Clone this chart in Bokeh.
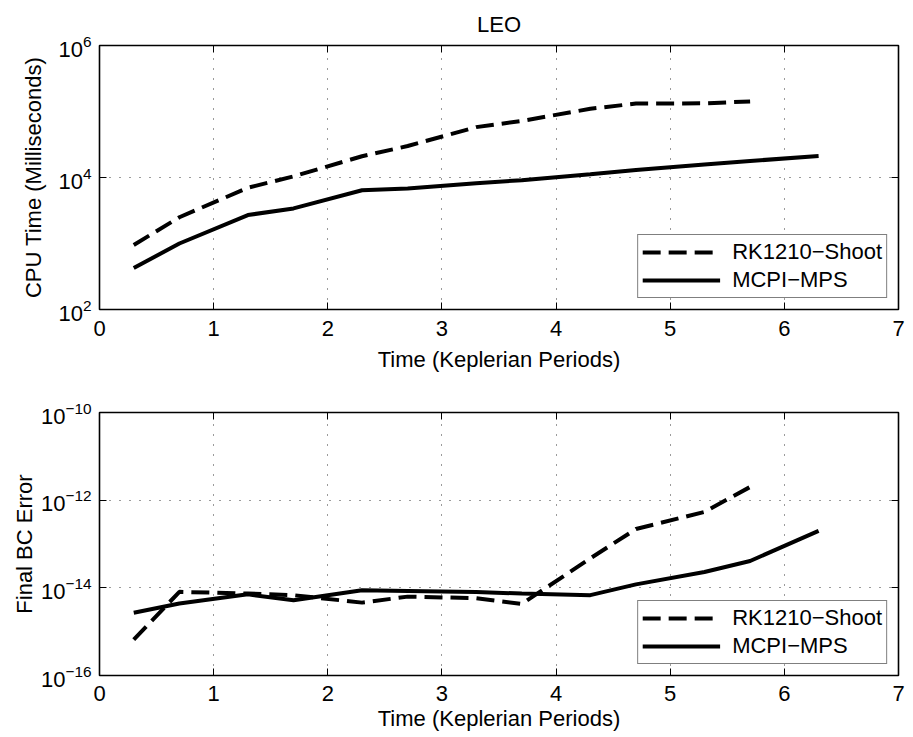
from bokeh.plotting import figure
from bokeh.models import (Range1d, FixedTicker, LinearAxis, LogAxis, Legend,
                          LegendItem, CustomJSTickFormatter, LogTickFormatter)
from bokeh.layouts import column
from bokeh.embed import file_html
from bokeh.resources import INLINE

# ---------------- data ----------------
x_rk = [0.3, 0.7, 1.3, 1.7, 2.3, 2.7, 3.3, 3.7, 4.3, 4.7, 5.3, 5.7]
x_mcpi = [0.3, 0.7, 1.3, 1.7, 2.3, 2.7, 3.3, 3.7, 4.3, 4.7, 5.3, 5.7, 6.3]

cpu_rk = [950, 2500, 7000, 10400, 21000, 30000, 58000, 72000, 110000, 132000, 133000, 142000]
cpu_mcpi = [425, 1000, 2700, 3400, 6400, 6800, 8200, 9100, 11200, 13000, 15800, 17800, 21100]

err_rk = [6.6e-16, 8.1e-15, 7.4e-15, 6.8e-15, 4.6e-15, 6.3e-15, 5.8e-15, 4.3e-15,
          4.7e-14, 2.2e-13, 5.4e-13, 2.0e-12]
err_mcpi = [2.7e-15, 4.4e-15, 7.1e-15, 5.2e-15, 8.8e-15, 8.5e-15, 8.0e-15, 7.4e-15,
            6.8e-15, 1.2e-14, 2.3e-14, 4.1e-14, 2.0e-13]

x_ticks = [0, 1, 2, 3, 4, 5, 6, 7]
cpu_ticks = [1e2, 1e4, 1e6]          # labelled 10^2, 10^4, 10^6
err_ticks = [1e-16, 1e-14, 1e-12, 1e-10]  # labelled 10^-16 ... 10^-10

series_names = ["RK1210\u2212Shoot", "MCPI\u2212MPS"]
title_text = "LEO"
x_label = "Time (Keplerian Periods)"
cpu_label = "CPU Time (Milliseconds)"
err_label = "Final BC Error"

FONT = "Liberation Sans"
FS = "22px"


def style_main_axis(ax):
    ax.axis_line_color = None
    ax.major_tick_in = 7
    ax.major_tick_out = 0
    ax.minor_tick_in = 0
    ax.minor_tick_out = 0
    ax.major_tick_line_color = "black"
    ax.major_tick_line_width = 1
    ax.major_label_text_font = FONT
    ax.major_label_text_font_size = FS
    ax.major_label_text_color = "black"
    ax.axis_label_text_font = FONT
    ax.axis_label_text_font_size = FS
    ax.axis_label_text_font_style = "normal"
    ax.axis_label_text_color = "black"


def add_tick_only_axis(p, kind, ticks, place):
    ax = kind(ticker=FixedTicker(ticks=ticks, minor_ticks=[]),
              formatter=CustomJSTickFormatter(code="return ''"))
    ax.axis_line_color = None
    ax.major_tick_in = 7
    ax.major_tick_out = 0
    ax.minor_tick_in = 0
    ax.minor_tick_out = 0
    ax.major_tick_line_color = "black"
    ax.major_label_standoff = 0
    ax.major_label_text_font_size = "0px"
    p.add_layout(ax, place)


def make_panel(height, top, bottom, y_lo, y_hi, y_ticks, y_label,
               y_rk, y_mcpi, y_lab_std, x_tick_std, x_lab_std, title=None):
    p = figure(width=913, height=height, x_range=Range1d(0, 7),
               y_range=Range1d(y_lo, y_hi), y_axis_type="log",
               output_backend="svg", toolbar_location=None,
               min_border_left=99, min_border_right=15,
               min_border_top=top, min_border_bottom=bottom,
               title=title)
    p.background_fill_color = "white"
    p.border_fill_color = "white"
    p.outline_line_color = "black"
    p.outline_line_width = 1.6

    if title is not None:
        p.title.align = "center"
        p.title.text_font = FONT
        p.title.text_font_size = FS
        p.title.text_font_style = "normal"
        p.title.text_color = "black"
        p.title.standoff = 18

    # x axis
    xa = p.xaxis[0]
    xa.ticker = FixedTicker(ticks=x_ticks, minor_ticks=[])
    style_main_axis(xa)
    xa.major_label_standoff = x_tick_std
    xa.axis_label = x_label
    xa.axis_label_standoff = x_lab_std

    # y axis (10 with raised exponent, via the log tick formatter)
    ya = p.yaxis[0]
    ya.ticker = FixedTicker(ticks=y_ticks, minor_ticks=[])
    ya.formatter = LogTickFormatter()
    style_main_axis(ya)
    ya.major_label_standoff = 8
    ya.axis_label = y_label
    ya.axis_label_standoff = y_lab_std

    add_tick_only_axis(p, LinearAxis, x_ticks, "above")
    add_tick_only_axis(p, LogAxis, y_ticks, "right")

    # grid
    p.xgrid.ticker = FixedTicker(ticks=x_ticks[1:-1], minor_ticks=[])
    p.ygrid.ticker = FixedTicker(ticks=y_ticks[1:-1], minor_ticks=[])
    for g in (p.xgrid[0], p.ygrid[0]):
        g.grid_line_color = "#222222"
        g.grid_line_dash = "1 9"
        g.grid_line_width = 1
        g.grid_line_alpha = 0.9

    r1 = p.line(x_rk, y_rk, line_color="black", line_width=4,
                line_dash="18 8")
    r2 = p.line(x_mcpi, y_mcpi, line_color="black", line_width=4)

    legend = Legend(items=[LegendItem(label=series_names[0], renderers=[r1]),
                           LegendItem(label=series_names[1], renderers=[r2])],
                    location="bottom_right")
    legend.border_line_color = "black"
    legend.border_line_width = 1.3
    legend.background_fill_color = "white"
    legend.background_fill_alpha = 1
    legend.label_text_font = FONT
    legend.label_text_font_size = FS
    legend.label_text_color = "black"
    legend.glyph_width = 78
    legend.glyph_height = 24
    legend.label_height = 24
    legend.label_standoff = 12
    legend.spacing = 2
    legend.padding = 4
    legend.margin = 11
    p.add_layout(legend)
    return p


p1 = make_panel(390, 44, 81, 1e2, 1e6, cpu_ticks, cpu_label,
                cpu_rk, cpu_mcpi, 9, 11, 8, title=title_text)
p2 = make_panel(347, 22, 62, 1e-16, 1e-10, err_ticks, err_label,
                err_rk, err_mcpi, 1, 10, 2)

layout = column(p1, p2, spacing=0)
open("out.html", "w").write(file_html(layout, INLINE))
